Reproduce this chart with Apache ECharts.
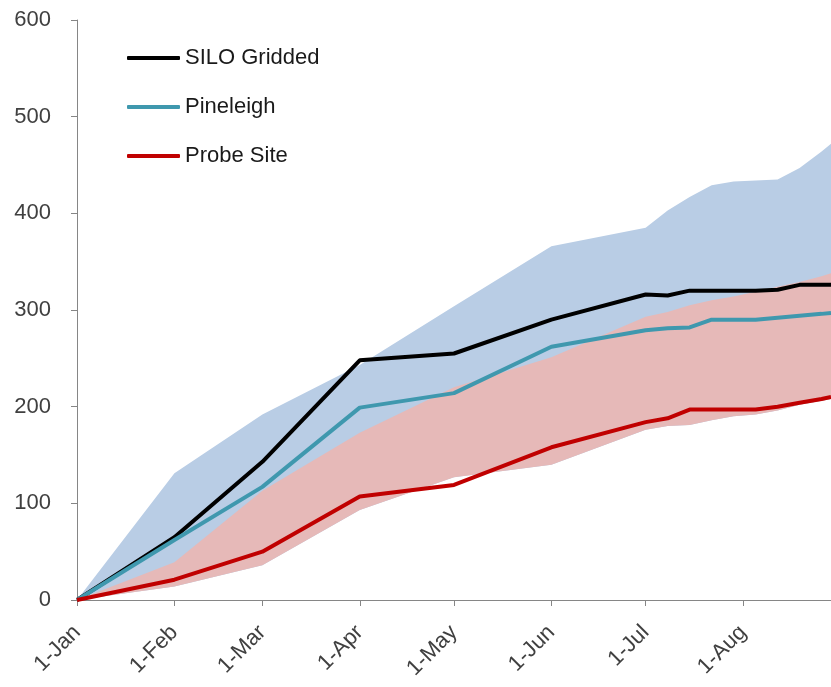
<!DOCTYPE html>
<html>
<head>
<meta charset="utf-8">
<script src="https://cdn.jsdelivr.net/npm/echarts@6/dist/echarts.min.js"></script>
<style>
    html, body { margin: 0; padding: 0; background: #fff; }
    #chart { width: 831px; height: 687px; }
</style>
</head>
<body>
<div id="chart"></div>
<script>
// x values are days since 1 Jan
const days = [0, 31, 59, 90, 120, 151, 181, 188, 195, 202, 209, 216, 223, 230, 237, 240];

// lines
const siloGridded = [0, 65, 143, 248, 255, 290, 316, 315, 320, 320, 320, 320, 321, 326, 326, 326];
const pineleigh   = [0, 62, 117, 199, 214, 262, 279, 281, 282, 290, 290, 290, 292, 294, 296, 297];
const probeSite   = [0, 21, 50, 107, 119, 158, 184, 188, 197, 197, 197, 197, 200, 204, 208, 210];

// shaded ranges
const blueUpper = [0, 131, 192, 243, 304, 366, 385, 403, 417, 429, 433, 434, 435, 447, 464, 472];
const blueLower = [0, 14, 36, 93, 127, 140, 176, 180, 181, 186, 190, 192, 196, 202, 206, 208];
const redUpper  = [0, 39, 113, 173, 220, 251, 293, 298, 305, 310, 314, 319, 324, 329, 335, 338];
const redLower  = [0, 14, 36, 93, 127, 140, 176, 180, 181, 186, 190, 192, 196, 202, 206, 208];

// x axis ticks
const monthDays   = [0, 31, 59, 90, 120, 151, 181, 212];
const monthLabels = ['1-Jan', '1-Feb', '1-Mar', '1-Apr', '1-May', '1-Jun', '1-Jul', '1-Aug'];

const FONT = 'Liberation Sans';
const AXIS_GREY = '#868686';
const TEXT_GREY = '#404040';

// value first, day second, so the stack runs on the value
function pairs(values) {
    return days.map((d, i) => [values[i], d]);
}

function diffPairs(upper, lower) {
    return days.map((d, i) => [upper[i] - lower[i], d]);
}

function bandSeries(name, upper, lower, color) {
    return [
        {
            name: name + ' base',
            type: 'line',
            stack: name,
            data: pairs(lower),
            encode: { x: 1, y: 0 },
            symbol: 'none',
            lineStyle: { opacity: 0 },
            silent: true
        },
        {
            name: name,
            type: 'line',
            stack: name,
            data: diffPairs(upper, lower),
            encode: { x: 1, y: 0 },
            symbol: 'none',
            lineStyle: { opacity: 0 },
            areaStyle: { color: color, opacity: 1 },
            silent: true
        }
    ];
}

function lineSeries(name, values, color) {
    return {
        name: name,
        type: 'line',
        data: pairs(values),
        encode: { x: 1, y: 0 },
        symbol: 'none',
        lineStyle: { width: 4, color: color },
        itemStyle: { color: color }
    };
}

const chart = echarts.init(document.getElementById('chart'));

const option = {
    animation: false,
    textStyle: { fontFamily: FONT },
    grid: {
        left: 77,
        right: 0,
        top: 20,
        bottom: 87
    },
    legend: {
        data: ['SILO Gridded', 'Pineleigh', 'Probe Site'],
        orient: 'vertical',
        left: 122,
        top: 41,
        itemWidth: 53,
        itemHeight: 4,
        itemGap: 25,
        icon: 'roundRect',
        textStyle: {
            fontFamily: FONT,
            fontSize: 22,
            color: '#1a1a1a',
            lineHeight: 24
        }
    },
    xAxis: {
        type: 'value',
        min: 0,
        max: 240,
        axisLine: { show: true, lineStyle: { color: AXIS_GREY, width: 1 } },
        axisTick: {
            show: true,
            length: 6,
            customValues: monthDays,
            lineStyle: { color: AXIS_GREY }
        },
        axisLabel: {
            customValues: monthDays,
            formatter: function(v) {
                const i = monthDays.indexOf(v);
                return i >= 0 ? monthLabels[i] : '';
            },
            rotate: 45,
            margin: 29,
            fontSize: 22,
            fontFamily: FONT,
            color: TEXT_GREY
        },
        splitLine: { show: false }
    },
    yAxis: {
        type: 'value',
        min: 0,
        max: 600,
        interval: 100,
        axisLine: { show: true, lineStyle: { color: AXIS_GREY, width: 1 } },
        axisTick: { show: true, length: 6, lineStyle: { color: AXIS_GREY } },
        axisLabel: {
            margin: 26,
            fontSize: 22,
            fontFamily: FONT,
            color: TEXT_GREY
        },
        splitLine: { show: false }
    },
    series: [
        ...bandSeries('Blue range', blueUpper, blueLower, '#b9cde5'),
        ...bandSeries('Red range', redUpper, redLower, '#e6b9b8'),
        lineSeries('SILO Gridded', siloGridded, '#000000'),
        lineSeries('Pineleigh', pineleigh, '#3f98ae'),
        lineSeries('Probe Site', probeSite, '#c00000')
    ]
};

chart.setOption(option);

window.addEventListener('resize', function() {
    chart.resize();
});
</script>
</body>
</html>
